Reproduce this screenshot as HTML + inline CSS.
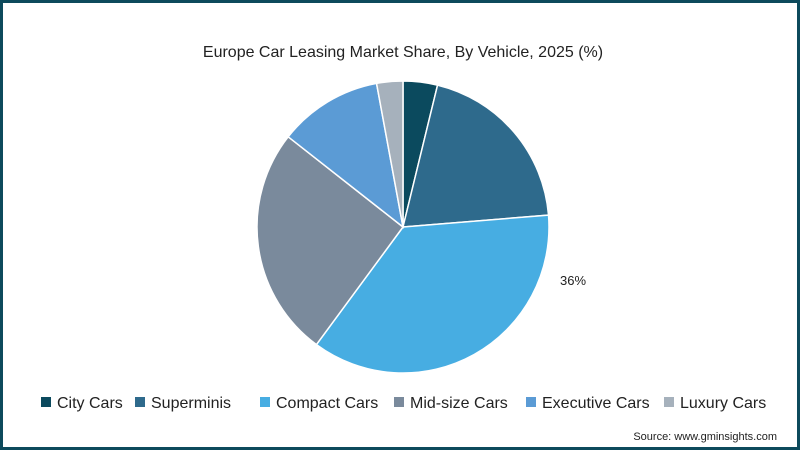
<!DOCTYPE html>
<html><head><meta charset="utf-8"><style>
body{margin:0;width:800px;height:450px;overflow:hidden;background:#fff;font-family:"Liberation Sans",sans-serif}
#frame{position:absolute;left:0;top:0;width:794px;height:444px;border:3px solid #0d4a5c;background:#fff}
</style></head><body>
<div id="frame"></div>
<svg width="800" height="450" style="position:absolute;left:0;top:0">
<text x="403" y="57" text-anchor="middle" font-size="16" fill="#222" font-family="Liberation Sans, sans-serif">Europe Car Leasing Market Share, By Vehicle, 2025 (%)</text>
<g id="slices"></g><g id="legend"></g>
<text x="560" y="285" font-size="13" fill="#222">36%</text>
<text x="777" y="440" text-anchor="end" font-size="11" fill="#222">Source: www.gminsights.com</text>
</svg>
<script>
const categories=["City Cars","Superminis","Compact Cars","Mid-size Cars","Executive Cars","Luxury Cars"];
const values=[3.8,19.9,36.4,25.5,11.5,2.9];
const colors=["#0b4a5e","#2e6a8c","#47ade2","#7a8a9c","#5b9bd5","#a6b1bc"];
const ns="http://www.w3.org/2000/svg";
const cx=403,cy=227,r=146;
const total=values.reduce((a,b)=>a+b,0);
let acc=0;
const g=document.getElementById('slices');
values.forEach((v,i)=>{
 const a0=acc/total*2*Math.PI;acc+=v;const a1=acc/total*2*Math.PI;
 const x0=cx+r*Math.sin(a0),y0=cy-r*Math.cos(a0),x1=cx+r*Math.sin(a1),y1=cy-r*Math.cos(a1);
 const p=document.createElementNS(ns,'path');
 p.setAttribute('d',`M${cx},${cy}L${x0},${y0}A${r},${r} 0 ${a1-a0>Math.PI?1:0} 1 ${x1},${y1}Z`);
 p.setAttribute('fill',colors[i]);p.setAttribute('stroke','#fff');p.setAttribute('stroke-width','1.5');
 
 
 g.appendChild(p);
});
const lg=document.getElementById('legend');
const lx=[41,135,260,394,526,664];
categories.forEach((c,i)=>{
 const e=document.createElementNS(ns,'g');
 
 
 const s=document.createElementNS(ns,'rect');
 s.setAttribute('x',lx[i]);s.setAttribute('y',397);s.setAttribute('width',10);s.setAttribute('height',10);s.setAttribute('fill',colors[i]);
 const t=document.createElementNS(ns,'text');
 t.setAttribute('x',lx[i]+16);t.setAttribute('y',408);t.setAttribute('font-size','16');t.setAttribute('fill','#222');
 t.textContent=c;
 e.appendChild(s);e.appendChild(t);lg.appendChild(e);
});
</script>
</body></html>
